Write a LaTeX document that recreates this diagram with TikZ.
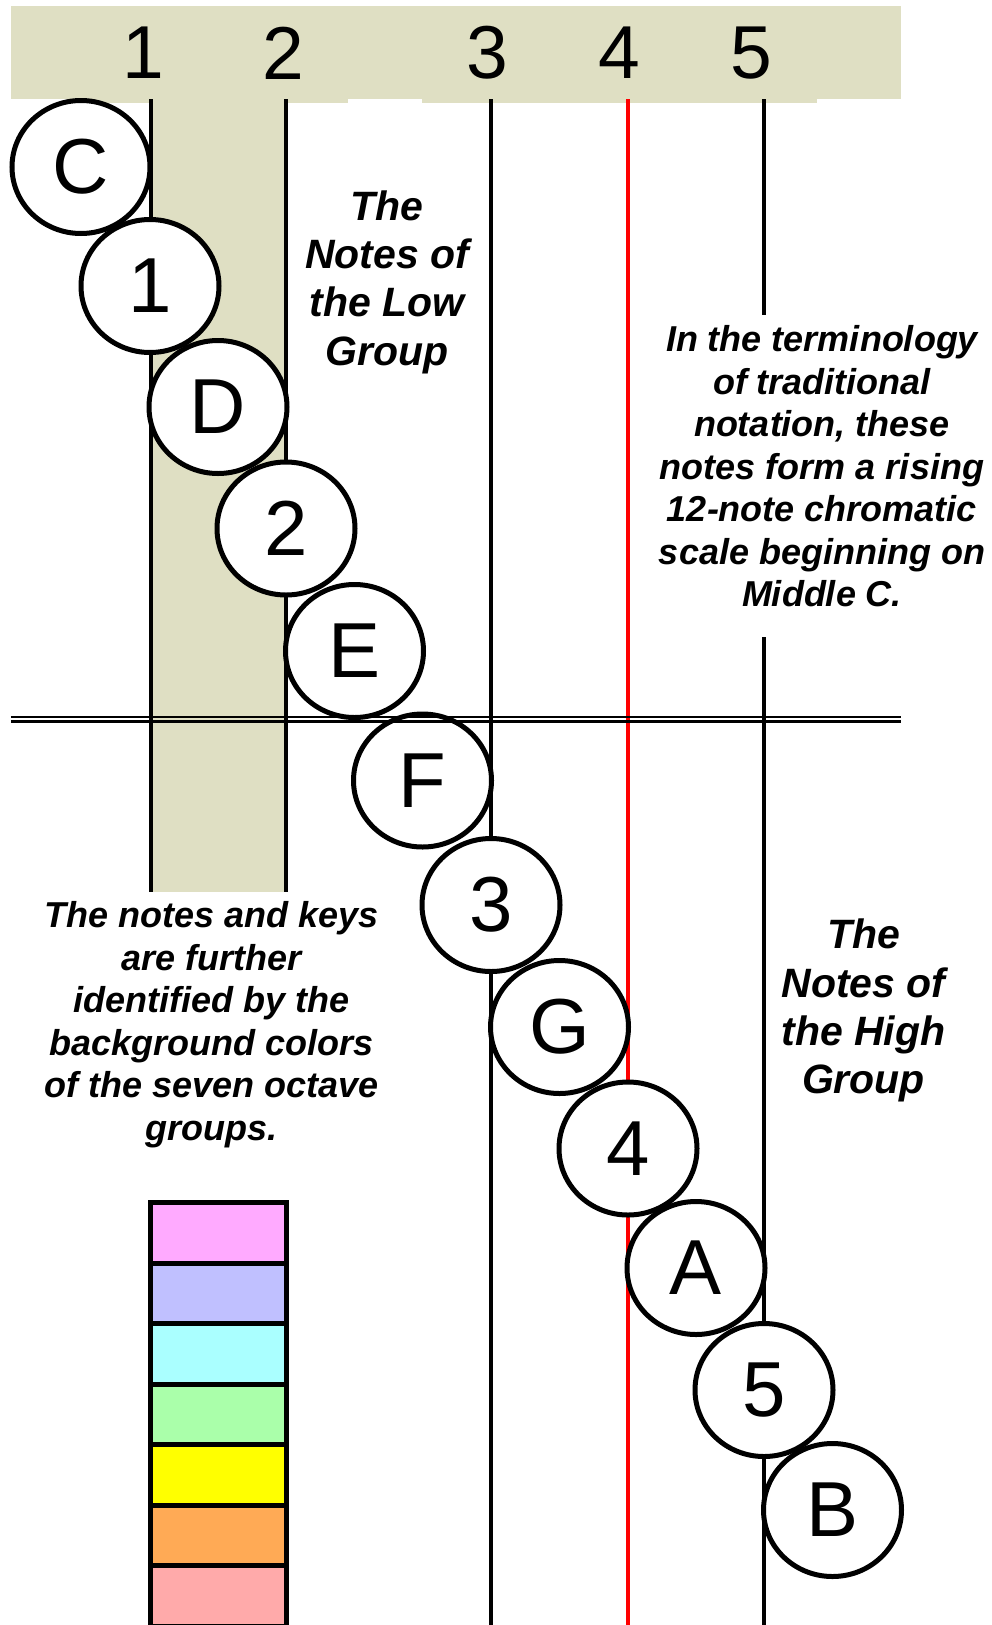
\documentclass[tikz,border=0pt]{standalone}
\usepackage{fontspec}
\setmainfont{Liberation Sans}
\usetikzlibrary{shapes.geometric}
\definecolor{bandbeige}{RGB}{223,223,195}
\definecolor{octA}{RGB}{255,170,255}
\definecolor{octB}{RGB}{192,192,255}
\definecolor{octC}{RGB}{170,255,255}
\definecolor{octD}{RGB}{170,255,170}
\definecolor{octE}{RGB}{255,255,0}
\definecolor{octF}{RGB}{255,170,85}
\definecolor{octG}{RGB}{255,170,170}
\begin{document}
\begin{tikzpicture}[x=1pt,y=-1pt,
  staff/.style={line width=4.6pt},
  note/.style={ellipse, draw, line width=5pt, fill=white,
    minimum width=138pt, minimum height=133pt, inner sep=0pt,
    font=\fontsize{78}{80}\selectfont},
  colnum/.style={inner sep=0pt, font=\fontsize{75}{78}\selectfont},
  bigcap/.style={align=center, inner sep=0pt, anchor=north,
    font=\fontsize{41}{48.3}\selectfont\bfseries\itshape},
  smallcap/.style={align=center, inner sep=0pt, anchor=north,
    font=\fontsize{36}{42.5}\selectfont\bfseries\itshape},
  swatch/.style={draw, line width=5pt}]
\useasboundingbox (0,0) rectangle (992,1625);
\fill[white] (0,0) rectangle (992,1625);

% header band and the shaded column of the first group
\fill[bandbeige] (10.5,5.7) rectangle (900.5,99);
\fill[bandbeige] (80,98) rectangle (348,102.5);
\fill[bandbeige] (422,98) rectangle (817,102.5);
\fill[bandbeige] (151,98) rectangle (286,891.5);

% column numbers
\node[colnum] (h1) at (143,53) {1};
\node[colnum] (h2) at (283,53) {2};
\node[colnum] (h3) at (487.5,53) {3};
\node[colnum] (h4) at (619,53) {4};
\node[colnum] (h5) at (751,53) {5};

% vertical key lines
\draw[staff] (151,99) -- (151,891.5);
\draw[staff] (286,99) -- (286,891.5);
\draw[staff] (491,99) -- (491,1625);
\draw[staff, red] (628,99) -- (628,1625);
\draw[staff] (764,99) -- (764,315);
\draw[staff] (764,637) -- (764,1625);

% the rising chain of notes
\node[note] (C)  at (81,167)     {C};
\node[note] (n1) at (150,286)    {1};
\node[note] (D)  at (218,407)    {D};
\node[note] (n2) at (286,528.5)  {2};
\node[note] (E)  at (354.5,651)  {E};
\node[note] (F)  at (422.5,780.5){F};
\node[note] (n3) at (491,905)    {3};
\node[note] (G)  at (559.5,1027) {G};
\node[note] (n4) at (628,1148.5) {4};
\node[note] (A)  at (696,1268)   {A};
\node[note] (n5) at (764,1390)   {5};
\node[note] (B)  at (832.5,1510) {B};

% double rule separating the low and high groups
\coordinate (splitL) at (10.8,717);
\coordinate (splitR) at (900.5,717);
\draw[line width=2.8pt] (splitL) -- (splitR);
\draw[line width=2.8pt] ([yshift=-4.2pt]splitL) -- ([yshift=-4.2pt]splitR);

% captions
\node[bigcap] (low) at (387,185)
  {\rule{0pt}{35pt}The\\Notes of\\the Low\\Group};
\node[bigcap] (high) at (863.5,913.5)
  {\rule{0pt}{35pt}The\\Notes of\\the High\\Group};
\node[smallcap] (term) at (822,316.7)
  {\rule{0pt}{35pt}In the terminology\\of traditional\\notation, these\\notes form a rising\\12-note chromatic\\scale beginning on\\Middle C.};
\node[smallcap] (keys) at (211.7,892.7)
  {\rule{0pt}{35pt}The notes and keys\\are further\\identified by the\\background colors\\of the seven octave\\groups.};

% octave group colour key
\foreach \c [count=\i from 0] in {octA,octB,octC,octD,octE,octF,octG}
  \draw[swatch, fill=\c] (150.5,1202.5+60.5*\i) rectangle (286.5,1263+60.5*\i);
\end{tikzpicture}
\end{document}
